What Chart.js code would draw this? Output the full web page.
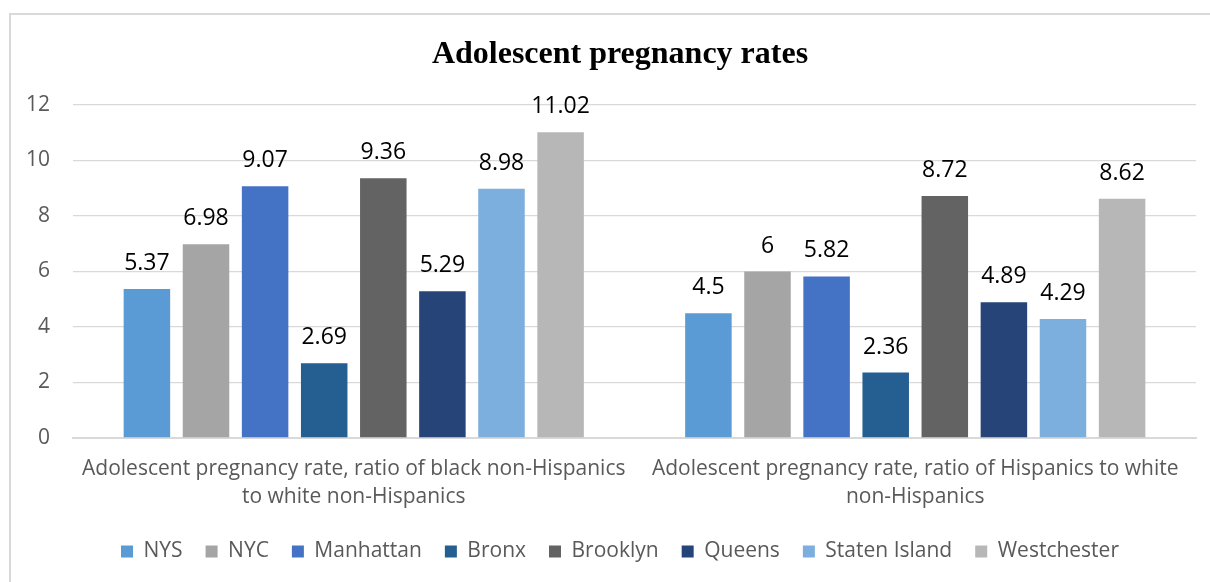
<!DOCTYPE html>
<html>
<head>
<meta charset="utf-8">
<script src="https://cdn.jsdelivr.net/npm/chart.js@4/dist/chart.umd.min.js"></script>
<style>
  html, body { margin: 0; padding: 0; background: #ffffff; }
  #wrap { position: relative; width: 1210px; height: 582px; overflow: hidden; }
  #frame { position: absolute; left: 9px; top: 13px; width: 1300px; height: 700px; border-left: 2px solid #d9d9d9; border-top: 2px solid #d9d9d9; }
  canvas { position: absolute; left: 0; top: 0; }
</style>
</head>
<body>
<div id="wrap">
  <div id="frame"></div>
  <canvas id="chart" width="1210" height="582"></canvas>
</div>
<script>
// categories (two wrapped lines each)
const categories = [
  ['Adolescent pregnancy rate, ratio of black non-Hispanics', 'to white non-Hispanics'],
  ['Adolescent pregnancy rate, ratio of Hispanics to white', 'non-Hispanics']
];
// series, one per area
const seriesNames = ['NYS', 'NYC', 'Manhattan', 'Bronx', 'Brooklyn', 'Queens', 'Staten Island', 'Westchester'];
const nys = [5.37, 4.5];
const nyc = [6.98, 6];
const manhattan = [9.07, 5.82];
const bronx = [2.69, 2.36];
const brooklyn = [9.36, 8.72];
const queens = [5.29, 4.89];
const statenIsland = [8.98, 4.29];
const westchester = [11.02, 8.62];
const seriesColors = ['#5b9bd5', '#a5a5a5', '#4472c4', '#255e91', '#636363', '#264478', '#7cafdd', '#b7b7b7'];
// y axis ticks
const yTicks = [0, 2, 4, 6, 8, 10, 12];

const seriesValues = [nys, nyc, manhattan, bronx, brooklyn, queens, statenIsland, westchester];

// value labels above each bar
const barLabels = {
  id: 'barLabels',
  afterDatasetsDraw(chart)
  {
    const ctx = chart.ctx;
    ctx.save();
    ctx.font = '23px "Open Sans"';
    ctx.fillStyle = '#000000';
    ctx.textAlign = 'center';
    ctx.textBaseline = 'alphabetic';
    chart.data.datasets.forEach((ds, i) =>
    {
      chart.getDatasetMeta(i).data.forEach((bar, j) =>
      {
        ctx.fillText(String(ds.data[j]), bar.x, bar.y - 19);
      });
    });
    ctx.restore();
  }
};

// title and legend sit a little right of the canvas centre
const shiftBlocks = {
  id: 'shiftBlocks',
  afterLayout(chart)
  {
    [chart.titleBlock, chart.legend].forEach((b) =>
    {
      if (b)
      {
        b.left += 22;
        b.right += 22;
      }
    });
  }
};

new Chart(document.getElementById('chart'),
{
  type: 'bar',
  data:
  {
    labels: categories,
    datasets: seriesNames.map((name, i) => ({
      label: name,
      data: seriesValues[i],
      backgroundColor: seriesColors[i],
      categoryPercentage: 0.842,
      barPercentage: 0.787
    }))
  },
  options:
  {
    responsive: false,
    animation: false,
    layout: {padding: {top: 20, right: 14, bottom: 10, left: 0}},
    plugins:
    {
      title:
      {
        display: true,
        text: 'Adolescent pregnancy rates',
        font: {family: 'Liberation Serif', size: 32, weight: 'bold', lineHeight: 1.2},
        color: '#000000',
        padding: {top: 16, bottom: 30.6}
      },
      legend:
      {
        position: 'bottom',
        labels: {font: {family: 'Open Sans', size: 21}, color: '#595959', boxWidth: 12, boxHeight: 12, padding: 23}
      },
      tooltip: {enabled: false}
    },
    scales:
    {
      x:
      {
        grid: {display: false, drawTicks: false},
        border: {color: '#d9d9d9', width: 2},
        ticks: {font: {family: 'Open Sans', size: 21, lineHeight: 1.33}, color: '#595959', padding: 17, maxRotation: 0, autoSkip: false},
        afterFit: (s) => { s.height = 80; }
      },
      y:
      {
        min: 0,
        max: 12,
        afterBuildTicks: (s) => { s.ticks = yTicks.map((v) => ({value: v})); },
        grid: {color: '#d9d9d9', lineWidth: 1.3, drawTicks: false},
        border: {display: false},
        ticks: {font: {family: 'Open Sans', size: 21}, color: '#595959', padding: 23},
        afterFit: (s) => { s.width = 73; }
      }
    }
  },
  plugins: [barLabels, shiftBlocks]
});
</script>
</body>
</html>
